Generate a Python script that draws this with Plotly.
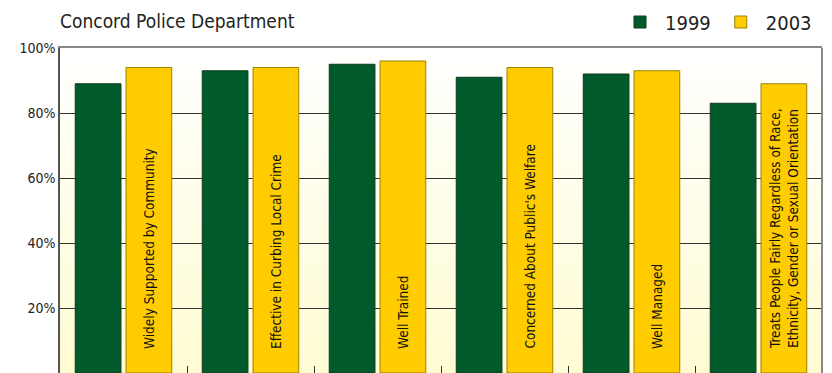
import base64
import plotly.graph_objects as go

categories = [
    "Widely Supported by Community",
    "Effective in Curbing Local Crime",
    "Well Trained",
    "Concerned About Public's Welfare",
    "Well Managed",
    "Treats People Fairly Regardless of Race,<br>Ethnicity, Gender or Sexual Orientation",
]
series_names = ["1999", "2003"]
values_1999 = [89, 93, 95, 91, 92, 83]
values_2003 = [94, 94, 96, 94, 93, 89]
y_ticks = [0, 20, 40, 60, 80, 100]
y_tick_labels = ["0%", "20%", "40%", "60%", "80%", "100%"]
title_text = "Concord Police Department"

GREEN = "#005a2b"
YELLOW = "#ffcc00"
FONT = "Liberation Sans Narrow, DejaVu Sans Condensed, Arial Narrow, sans-serif"

x_idx = list(range(len(categories)))

fig = go.Figure()
fig.add_trace(go.Bar(
    x=x_idx, y=values_1999, name=series_names[0],
    marker=dict(color=GREEN, line=dict(color="#0f3a1c", width=1)),
))
fig.add_trace(go.Bar(
    x=x_idx, y=values_2003, name=series_names[1],
    marker=dict(color=YELLOW, line=dict(color="#9c8200", width=1)),
))

# labels inside the 2003 bars, rotated, anchored near the base
for i, cat in enumerate(categories):
    fig.add_annotation(
        x=i, y=0, xref="x", yref="y", text=cat, textangle=-90,
        showarrow=False, xanchor="center", yanchor="bottom",
        xshift=25, yshift=22, align="left",
        font=dict(family=FONT, size=13.5, color="#111111"),
    )

# gradient background for the plot area
svg = (
    '<svg xmlns="http://www.w3.org/2000/svg" width="100" height="100" preserveAspectRatio="none">'
    '<defs><linearGradient id="g" x1="0" y1="0" x2="0" y2="1">'
    '<stop offset="0" stop-color="#ffffff"/><stop offset="1" stop-color="#fffcd2"/>'
    '</linearGradient></defs><rect width="100" height="100" fill="url(#g)"/></svg>'
)
src = "data:image/svg+xml;base64," + base64.b64encode(svg.encode()).decode()
fig.add_layout_image(
    source=src, xref="paper", yref="paper", x=0, y=1, sizex=1, sizey=1,
    xanchor="left", yanchor="top", sizing="stretch", layer="below",
)

fig.update_layout(
    width=832, height=373,
    margin=dict(l=60, r=10, t=48, b=0, autoexpand=False),
    paper_bgcolor="white",
    plot_bgcolor="rgba(0,0,0,0)",
    barmode="group", bargap=0.2, bargroupgap=0.1,
    title=dict(
        text=title_text, x=60 / 832, xanchor="left", y=1 - 21 / 373, yanchor="middle",
        font=dict(family=FONT, size=19, color="#222222"),
    ),
    legend=dict(
        orientation="h", x=1 - 5 / 762, xanchor="right", y=1 + (48 - 22) / 325, yanchor="middle",
        font=dict(family=FONT, size=20, color="#222222"), traceorder="normal",
        itemwidth=40, bgcolor="rgba(0,0,0,0)",
    ),
    font=dict(family=FONT),
)
fig.update_xaxes(
    range=[-0.5, len(categories) - 0.5], tickvals=[i + 0.5 for i in x_idx[:-1]],
    showticklabels=False, ticks="inside", ticklen=7, tickcolor="#333333",
    showgrid=False, showline=True, linecolor="#888888", linewidth=2, mirror=True,
    zeroline=False,
)
fig.update_yaxes(
    range=[0, 100], tickvals=y_ticks, ticktext=y_tick_labels,
    showgrid=True, gridcolor="#333333", gridwidth=1,
    showline=True, linecolor="#555555", linewidth=1.5, mirror=False,
    zeroline=False, ticks="", tickfont=dict(family=FONT, size=14, color="#222222"),
)
# right frame in lighter gray
fig.add_shape(type="line", xref="paper", yref="paper", x0=1, x1=1, y0=0, y1=1,
              line=dict(color="#888888", width=2))

fig.write_html("out.html")
